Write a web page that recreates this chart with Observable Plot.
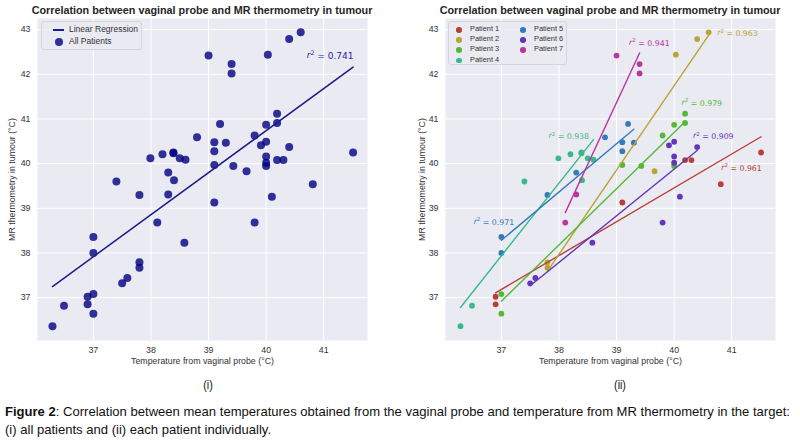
<!DOCTYPE html>
<html><head><meta charset="utf-8">
<script src="https://cdn.jsdelivr.net/npm/d3@7"></script>
<script src="https://cdn.jsdelivr.net/npm/@observablehq/plot@0.6"></script>
<style>
body{margin:0;background:#fff;width:800px;height:446px;overflow:hidden;position:relative;font-family:"Liberation Sans",Arial,sans-serif;color:#262626;}
.panel{position:absolute;top:0;width:400px;height:375px;}
.title{position:absolute;top:4px;font-weight:bold;font-size:10.8px;color:#262626;white-space:nowrap;transform:translateX(-50%);}
.legend{position:absolute;background:rgba(234,234,242,0.85);border:1px solid #d4d4dc;border-radius:3px;box-sizing:border-box;}
.li{position:absolute;white-space:nowrap;color:#333;}
.sub{position:absolute;top:377px;font-size:13px;transform:translateX(-50%) scaleX(0.82);color:#111;}
.caption{position:absolute;left:5px;top:403px;font-size:13px;line-height:18px;color:#111;white-space:nowrap;transform-origin:0 0;}
</style></head>
<body>
<script>
// ---- data ----
const patients = ["Patient 1","Patient 2","Patient 3","Patient 4","Patient 5","Patient 6","Patient 7"];
const patientColors = ["#ba3e36","#b8a536","#54ba36","#36ba89","#367aba","#6336ba","#ba369f"];
const xTicks = [37, 38, 39, 40, 41];
const yTicks = [37, 38, 39, 40, 41, 42, 43];
const xDomain = [36.03, 41.76];
const yDomain = [36.04, 43.25];

const patientOf = [
  1,1,1,1,1,1,1,
  2,2,2,2,2,2,
  3,3,3,3,3,3,3,3,3,
  4,4,4,4,4,4,4,4,4,4,
  5,5,5,5,5,5,5,5,5,
  6,6,6,6,6,6,6,6,6,6,
  7,7,7,7,7
];
const probeTemp = [
  36.9,36.9,39.1,40.19,40.3,40.81,41.51,
  37.8,37.8,39.66,40.03,40.4,40.6,
  37.0,37.0,39.1,39.43,39.8,40.0,40.0,40.19,40.19,
  36.29,36.49,37.4,37.99,38.2,38.39,38.39,38.5,38.6,38.4,
  37.0,37.0,37.8,38.3,38.8,39.1,39.1,39.2,39.3,
  37.5,37.59,38.58,39.8,39.91,40.0,40.0,40.0,40.1,40.4,
  38.11,38.3,39.0,39.4,39.4
];
const mrTemp = [
  37.02,36.85,39.13,40.08,40.08,39.54,40.25,
  37.79,37.67,39.83,42.44,42.79,42.94,
  37.08,36.64,39.97,39.95,40.63,40.87,39.95,40.91,41.12,
  36.36,36.82,39.6,40.12,40.21,40.25,40.23,40.12,40.09,39.63,
  38.36,38.0,39.3,39.8,40.59,40.48,40.28,40.89,40.47,
  37.32,37.44,38.23,38.68,40.41,40.49,40.16,40.02,39.26,40.37,
  38.68,39.31,42.42,42.23,42.02
];
const r2All = 0.741;
const r2Patients = [0.961, 0.963, 0.979, 0.938, 0.971, 0.909, 0.941];
// annotation anchors (data coordinates) for the r² labels
const r2AllAt = [41.11, 42.43];
const r2LabelX = [41.17, 41.10, 40.48, 38.17, 36.87, 40.68, 39.57];
const r2LabelY = [39.92, 42.93, 41.38, 40.63, 38.71, 40.63, 42.72];

const data = probeTemp.map((p, i) => ({probe: p, mr: mrTemp[i], patient: patients[patientOf[i] - 1]}));
const r2Table = patients.map((p, i) => ({patient: p, x: r2LabelX[i], y: r2LabelY[i], text: `r² = ${r2Patients[i].toFixed(3)}`}));

function panel(ml, mr, ylo, marks, color) {
  return Plot.plot({
    width: 400, height: 375,
    marginLeft: ml, marginRight: mr, marginTop: 18, marginBottom: 35,
    style: {background: "transparent", fontFamily: "Liberation Sans, Arial, sans-serif", fontSize: "8.5px", color: "#333", overflow: "visible"},
    x: {domain: xDomain},
    y: {domain: yDomain},
    color,
    marks: [
      Plot.frame({fill: "#EAEAF2", stroke: "none"}),
      Plot.gridX(xTicks, {stroke: "#fff", strokeOpacity: 1, strokeWidth: 1}),
      Plot.gridY(yTicks, {stroke: "#fff", strokeOpacity: 1, strokeWidth: 1}),
      Plot.axisX(xTicks, {tickSize: 0, tickPadding: 6, tickFormat: d => String(d), label: "Temperature from vaginal probe (°C)", labelAnchor: "center", labelArrow: "none", labelOffset: 23, fontSize: 8.8}),
      Plot.axisY(yTicks, {tickSize: 0, tickPadding: 7, tickFormat: d => String(d), label: "MR thermometry in tumour (°C)", labelAnchor: "center", labelArrow: "none", labelOffset: ylo, fontSize: 8.8}),
      ...marks
    ]
  });
}

function fixR2(svg) {
  d3.select(svg).selectAll("text").each(function() {
    const t = this.textContent;
    if (!t.startsWith("r² =")) return;
    const rest = t.slice(2);
    const sel = d3.select(this);
    sel.text(null);
    sel.append("tspan").attr("font-style", "italic").text("r");
    sel.append("tspan").attr("dy", "-0.45em").attr("font-size", "0.7em").text("2");
    sel.append("tspan").attr("dy", "0.45em").text(rest);
  });
}

const body = document.body;

// left panel
const left = panel(37, 33, 29, [
  Plot.dot(data, {x: "probe", y: "mr", r: 4, fill: "#000080", fillOpacity: 0.8}),
  Plot.linearRegressionY(data, {x: "probe", y: "mr", stroke: "#1c1c8a", strokeWidth: 1.5, ci: 0}),
  Plot.text([r2All], {x: () => r2AllAt[0], y: () => r2AllAt[1], text: d => `r² = ${d.toFixed(3)}`, fill: "#2626a0", fontFamily: "DejaVu Sans", fontSize: 9})
]);
fixR2(left);
const lp = document.createElement("div"); lp.className = "panel"; lp.style.left = "0px"; lp.appendChild(left); body.appendChild(lp);

// right panel
const right = panel(45, 25, 27, [
  Plot.dot(data, {x: "probe", y: "mr", r: 2.9, fill: "patient"}),
  Plot.linearRegressionY(data, {x: "probe", y: "mr", stroke: "patient", strokeWidth: 1.4, ci: 0}),
  Plot.text(r2Table, {x: "x", y: "y", text: "text", fill: "patient", fontFamily: "DejaVu Sans", fontSize: 7.8})
], {domain: patients, range: patientColors});
fixR2(right);
const rp = document.createElement("div"); rp.className = "panel"; rp.style.left = "400px"; rp.appendChild(right); body.appendChild(rp);

// titles
function addDiv(cls, html, styles) {
  const d = document.createElement("div"); d.className = cls; d.innerHTML = html;
  Object.assign(d.style, styles); body.appendChild(d); return d;
}
addDiv("title", "Correlation between vaginal probe and MR thermometry in tumour", {left: "202px"});
addDiv("title", "Correlation between vaginal probe and MR thermometry in tumour", {left: "610px"});

// left legend
const lg = addDiv("legend", "", {left: "41px", top: "21px", width: "101px", height: "29px"});
lg.innerHTML = `<div style="position:absolute;left:11px;top:7px;width:11px;height:1.6px;background:#1c1c8a"></div>
<div class="li" style="left:27px;top:2px;font-size:8.5px">Linear Regression</div>
<div style="position:absolute;left:13px;top:15.5px;width:8px;height:8px;border-radius:50%;background:rgba(0,0,128,0.8)"></div>
<div class="li" style="left:27px;top:14px;font-size:8.5px">All Patients</div>`;

// right legend
const rg = addDiv("legend", "", {left: "448px", top: "21px", width: "119px", height: "44px"});
rg.innerHTML = patients.map((p, i) => {
  const col = i < 4 ? 0 : 1, row = i < 4 ? i : i - 4;
  const mx = 7 + col * 64, ty = 2 + row * 10.2;
  return `<div style="position:absolute;left:${mx}px;top:${ty + 3}px;width:5.6px;height:5.6px;border-radius:50%;background:${patientColors[i]}"></div>
<div class="li" style="left:${mx + 14}px;top:${ty}px;font-size:7.4px">${p}</div>`;
}).join("");

addDiv("sub", "(i)", {left: "208px"});
addDiv("sub", "(ii)", {left: "620px"});
const cap = addDiv("caption", "<span id='l1'><b>Figure 2</b>: Correlation between mean temperatures obtained from the vaginal probe and temperature from MR thermometry in the target:</span><br>(i) all patients and (ii) each patient individually.", {});
const w1 = document.getElementById("l1").getBoundingClientRect().width;
cap.style.transform = `scaleX(${785 / w1})`;
</script>
</body></html>
